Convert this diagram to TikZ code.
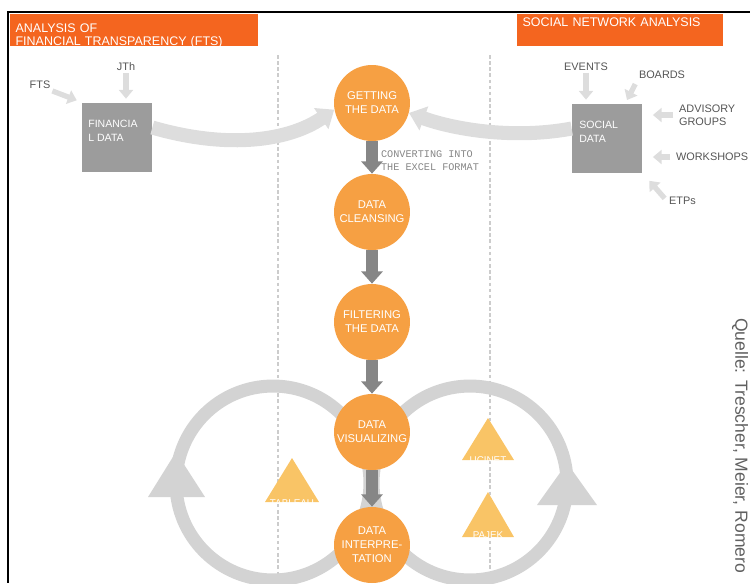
\documentclass[tikz,border=0pt]{standalone}
\usepackage{fontspec}
\setmainfont{Liberation Sans}
\newfontfamily\convfont{Liberation Mono}
\usetikzlibrary{positioning, arrows.meta}
\definecolor{hdrorange}{HTML}{F4651F}
\definecolor{stageorange}{HTML}{F6A043}
\definecolor{toolyellow}{HTML}{F9C466}
\definecolor{boxgray}{HTML}{9C9C9C}
\definecolor{flowgray}{HTML}{868686}
\definecolor{feedgray}{HTML}{DDDDDD}
\definecolor{cyclegray}{HTML}{D3D3D3}
\definecolor{labelgray}{HTML}{555555}
\tikzset{
stage/.style={
  circle,
  fill=stageorange,
  minimum size=1.52cm,
  inner sep=0pt,
  text=white, align=center,
  font=\fontsize{6.4}{8}\selectfont
  },
header/.style={
  fill=hdrorange,
  anchor=north west,
  text=white, align=left,
  inner xsep=3pt, inner ysep=2pt,
  minimum height=0.64cm,
  font=\fontsize{7.1}{7.8}\selectfont
  },
datbox/.style={
  fill=boxgray,
  minimum width=1.4cm,
  minimum height=1.38cm
  },
boxtext/.style={
  anchor=north west, inner sep=0pt,
  text=white, align=left,
  font=\fontsize{6}{7.6}\selectfont
  },
feedlabel/.style={
  text=labelgray, align=left, inner sep=1pt,
  font=\fontsize{6.2}{7.6}\selectfont
  },
toollabel/.style={
  text=white, inner sep=0pt,
  font=\fontsize{5.6}{6}\selectfont
  },
flow/.style={-{Triangle[width=12pt,length=7pt]}, line width=6.5pt, draw=flowgray},
feed/.style={-{Triangle[width=8pt,length=5pt]}, line width=3pt, draw=feedgray},
feedbig/.style={-{Triangle[width=14pt,length=9pt]}, line width=8pt, draw=feedgray},
cycleline/.style={line width=7.4pt, draw=cyclegray},
guide/.style={draw=gray!40, line width=0.6pt, dash pattern=on 2pt off 1.5pt}
}
\begin{document}
\begin{tikzpicture}[x=0.02cm, y=-0.02cm]
\useasboundingbox (0,0) rectangle (750,583);

\draw[guide] (278,55) -- (278,583);
\draw[guide] (490,55) -- (490,583);

\draw[cycleline] (273,483) circle [radius=1.94cm];
\draw[cycleline] (470,483) circle [radius=1.94cm];
\fill[cyclegray] (148,497) -- (176,452) -- (205,497) -- cycle;
\fill[cyclegray] (537,505) -- (567,463) -- (597,505) -- cycle;

\node[header, text width=4.75cm, text depth=3pt]	(fta)		at (10,14)	{ANALYSIS OF\\FINANCIAL TRANSPARENCY (FTS)};
\node[header, text width=3.91cm, text depth=9pt]	(sna)	at (517,14)	{SOCIAL NETWORK ANALYSIS};

\node[datbox]	(findata)	at (117,137)	{};
\node[boxtext]	(findatatext)	at (88,120)	{FINANCIA\\L DATA};
\node[feedlabel]	(fts)		at (40,85)	{FTS};
\node[feedlabel]	(jth)		at (126,67)	{JTh};

\node[datbox]	(socdata)	at (607,138)	{};
\node[boxtext]	(socdatatext)	at (579,121)	{SOCIAL\\DATA};
\node[feedlabel]	(events)	at (586,67)	{EVENTS};
\node[feedlabel]	(boards)	at (662,75)	{BOARDS};
\node[feedlabel, anchor=west]	(advisory)	at (677,115)	{ADVISORY\\GROUPS};
\node[feedlabel, anchor=west]	(workshops)	at (674,157)	{WORKSHOPS};
\node[feedlabel, anchor=west]	(etps)		at (667,201)	{ETPs};
\coordinate	(boardsin)	at (627,100);

\node[stage]	(getting)	at (372,103)	{GETTING\\THE DATA};
\node[stage]	(cleansing)	at (372,212)	{DATA\\CLEANSING};
\node[stage]	(filtering)	at (372,322)	{FILTERING\\THE DATA};
\node[stage]	(visualizing)	at (372,432)	{DATA\\VISUALIZING};
\node[stage]	(interpret)	at (372,545)	{DATA\\INTERPRE-\\TATION};

\draw[feedbig]	(findata.15)	.. controls (230,150) and (290,140) ..	(getting.190);
\draw[feedbig]	(socdata.165)	.. controls (510,140) and (450,128) ..	(getting.-15);

\node[feedlabel, anchor=west, text=flowgray, font=\convfont\fontsize{5.8}{7.4}\selectfont] (convert) at (379,161) {CONVERTING INTO\\THE EXCEL FORMAT};

\fill[toolyellow] (265,502) -- (292,458) -- (319,502) -- cycle;
\node[toollabel]	(tableau)	at (292,503)	{TABLEAU};
\fill[toolyellow] (462,460) -- (488,418) -- (514,460) -- cycle;
\node[toollabel]	(ucinet)	at (488,460)	{UCINET};
\fill[toolyellow] (462,537) -- (488,492) -- (514,537) -- cycle;
\node[toollabel]	(pajek)		at (488,535)	{PAJEK};

\draw[feed, shorten >=3pt]	(fts.south east)	--	(findata.north west);
\draw[feed, shorten >=2pt]	(jth.south)		--	(jth |- findata.north);
\draw[feed, shorten >=2pt]	(events.south)		--	(events |- socdata.north);
\draw[feed, shorten <=2pt]	(boards.south west)	--	(boardsin);
\draw[feed, shorten <=2pt, shorten >=6pt]	(advisory.west)	--	(socdata.east |- advisory.west);
\draw[feed, shorten <=2pt, shorten >=6pt]	(workshops.west)	--	(socdata.east |- workshops.west);
\draw[feed, shorten <=2pt, shorten >=6pt]	(etps.west)	--	(socdata.south east);

\draw[flow]	(getting.south)		--	(cleansing.north);
\draw[flow]	(cleansing.south)	--	(filtering.north);
\draw[flow]	(filtering.south)	--	(visualizing.north);
\draw[flow]	(visualizing.south)	--	(interpret.north);

\node[rotate=-90, anchor=west, text=gray!75!black, font=\fontsize{10}{12}\selectfont] (source) at (740,312) {Quelle: Trescher, Meier, Romero};

\draw[line width=1.1pt] (750,12) -- (8,12) -- (8,583);
\end{tikzpicture}
\end{document}
